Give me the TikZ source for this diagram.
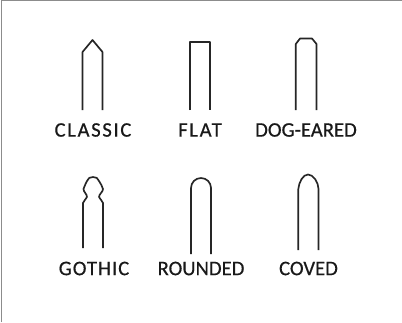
\documentclass[tikz,border=0pt]{standalone}
\usepackage{fontspec}
\setmainfont[FakeBold=0.5]{Carlito}
\newfontfamily\lblwide[FakeBold=0.5,LetterSpace=8]{Carlito}
\newfontfamily\lblmid[FakeBold=0.5,LetterSpace=5]{Carlito}
\tikzset{
  outline/.style={draw=black!85,line width=1.25pt,line join=round},
  lbl/.style={font=\fontsize{15.5}{16}\selectfont,text=black!90,inner sep=0pt,anchor=center},
  frameline/.style={draw=black!45,line width=1.2pt}
}
\begin{document}
\begin{tikzpicture}[x=0.75pt,y=-0.75pt]
\useasboundingbox (0,0) rectangle (402,322);
\fill[white] (0,0) rectangle (402,322);
\draw[frameline] (1.5,322) -- (1.5,0.5) -- (402,0.5);
% classic
\draw[outline] (82.5,110) -- (82.5,52) -- (92.5,40) -- (102.5,52) -- (102.5,110);
% flat
\draw[outline] (190,110) -- (190,42) -- (210,42) -- (210,110);
% dog-eared
\draw[outline] (295.8,110) -- (295.8,44) -- (300,38.5) -- (312,38.5) -- (316.5,44) -- (316.5,110);
% gothic
\draw[outline] (83,248) -- (83,203) .. controls (83,201) and (86,200) .. (87,197)
  .. controls (87,194) and (83.5,192) .. (83.5,189) .. controls (84,186) and (86,184) .. (87,181)
  .. controls (88,178) and (90,177) .. (93,177) .. controls (96,177) and (98,178) .. (99,181)
  .. controls (100,184) and (103,186) .. (103,189) .. controls (103,192) and (99,194) .. (99,197)
  .. controls (100,200) and (103,201) .. (103,203) -- (103,248);
% rounded
\draw[outline] (191,254) -- (191,188) arc[start angle=180,end angle=360,radius=10] -- (211,254);
% coved
\draw[outline] (298.3,250) -- (298.3,189) .. controls (299,182) and (303,174.5) .. (308,174.5)
  .. controls (313,174.5) and (318.5,182) .. (318.5,189) -- (318.5,250);
\node[lbl] (classic) at (93,130) {\lblwide CLASSIC};
\node[lbl] (flat) at (200,130) {\lblwide FLAT};
\node[lbl] (dog) at (306,130) {DOG-EARED};
\node[lbl] (gothic) at (94,268.5) {\lblmid GOTHIC};
\node[lbl] (rounded) at (201,268.5) {ROUNDED};
\node[lbl] (coved) at (308.5,268.5) {COVED};
\end{tikzpicture}
\end{document}
